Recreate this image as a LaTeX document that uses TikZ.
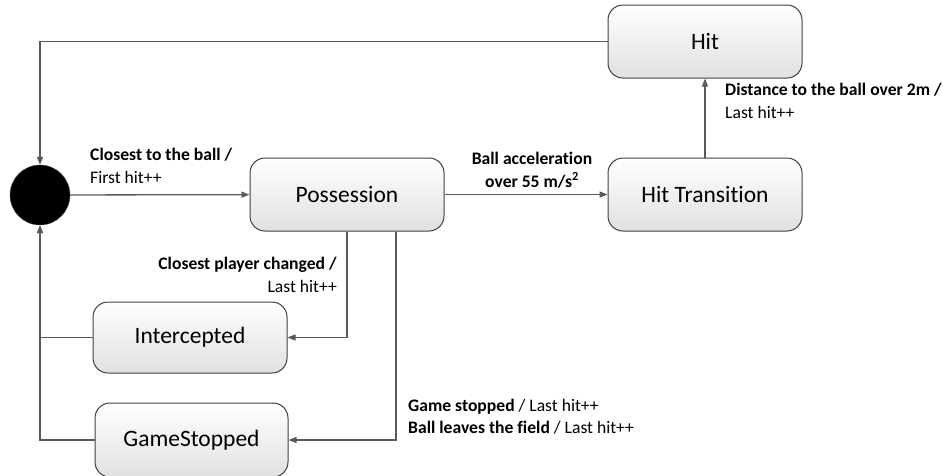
\documentclass[tikz,border=0pt]{standalone}
\usepackage{fontspec}
\setmainfont{Carlito}[Ligatures=NoCommon]
\usepackage{pgf,tikz}
\usetikzlibrary{arrows.meta}
\usetikzlibrary{calc}

\tikzset{
 state/.style={draw=black!75, line width=1pt, rounded corners=15pt, top color=white, bottom color=black!12,
   minimum width=194pt, minimum height=73pt, inner sep=0pt, font=\fontsize{23.5}{27}\selectfont},
 trans/.style={draw=black!65, line width=1.3pt, -{Triangle[length=8pt,width=6pt]}},
 lbl/.style={font=\fontsize{17.6}{22.5}\selectfont, inner sep=0pt}
}

\begin{document}
\begin{tikzpicture}[x=1pt,y=-1pt]
\useasboundingbox (0,0) rectangle (943,475);
\node[circle, fill=black, draw=black!70, minimum size=60pt, inner sep=0pt] (init) at (40,195) {};%start
\node[state] (poss) at (347,194.5) {Possession};
\node[state] (hittr) at (705,194.5) {Hit Transition};
\node[state] (hit) at (705,41.5) {Hit};
\node[state, minimum height=71pt] (inter) at (190,337.5) {Intercepted};
\node[state, minimum width=193pt, minimum height=74pt] (stop) at (191.5,440) {GameStopped};
\coordinate (pout) at ([xshift=49pt]poss.south);
\draw[trans] (init) -- (poss);
\draw[trans] (poss) -- (hittr);
\draw[trans] (hittr) -- (hit);
\draw[trans] (hit.west) -| (init.north);
\draw[trans] (poss.south) |- (inter.east);
\draw[trans] (pout) |- (stop.east);
\draw[trans] (inter.west) -| (init.south);
\draw[trans] (stop.west) -| (init.south);
\node[lbl, anchor=west, align=left] (l1) at (90,166) {\textbf{Closest to the ball /}\\First hit++};
\node[lbl, align=center] (l2) at (532,170) {\textbf{Ball acceleration}\\\textbf{over 55 m/s\textsuperscript{2}}};
\node[lbl, anchor=west, align=left] (l3) at (725,101) {\textbf{Distance to the ball over 2m /}\\Last hit++};
\node[lbl, anchor=east, align=right] (l4) at (337,275) {\textbf{Closest player changed /}\\Last hit++};
\node[lbl, anchor=west, align=left] (l5) at (408,416.5) {\textbf{Game stopped} / Last hit++\\\textbf{Ball leaves the field} / Last hit++};
\end{tikzpicture}
\end{document}
